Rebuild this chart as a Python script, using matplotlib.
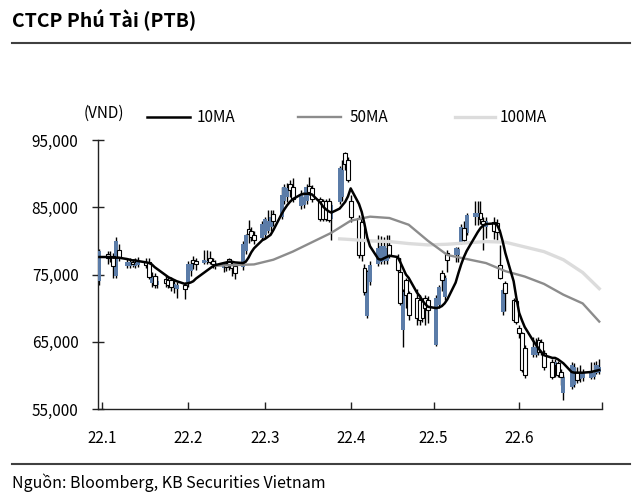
import numpy as np
import pandas as pd
import matplotlib
matplotlib.use('Agg')
import matplotlib.pyplot as plt
import matplotlib.dates as mdates
from matplotlib.lines import Line2D
from matplotlib.ticker import FixedLocator, FuncFormatter

plt.rcParams['font.family'] = ['Noto Sans CJK KR', 'DejaVu Sans']

# trading days shown on the chart (weekdays, 31/12/2021 - 30/06/2022)
dates = pd.bdate_range('2021-12-31', '2022-06-30')

# OHLC in thousand VND, one row per week
open_k = [74.0, 78.0, 77.5, 77.8, 74.8, 78.6,
          76.3, 76.2, 76.9, 76.3, 76.4,
          76.8, 76.9, 73.8, 74.8, 73.5,
          74.3, 74.2, 74.2, 73.0, 72.8,
          73.5, 73.6, 75.5, 77.2, 77.0,
          76.7, 76.8, 77.5, 77.0, 76.2,
          76.0, 76.6, 77.3, 76.6, 76.3,
          76.1, 78.5, 81.8, 81.5, 80.9,
          80.4, 80.8, 81.5, 82.0, 84.0,
          83.5, 86.0, 86.5, 88.5, 88.0,
          85.2, 85.3, 86.0, 88.1, 87.8,
          86.3, 86.0, 85.9, 86.0, 83.2,
          85.8, 86.5, 93.0, 92.0, 86.0,
          83.4, 82.8, 76.0, 68.8, 73.9,
          76.5, 76.8, 77.0, 77.0, 79.4,
          77.5, 75.4, 66.7, 74.2, 72.3,
          71.5, 71.2, 71.0, 71.5, 71.2,
          64.5, 70.5, 75.2, 71.7, 78.2,
          77.9, 77.9, 79.7, 81.9, 81.2,
          83.5, 83.5, 84.1, 83.0, 82.0,
          82.8, 82.6, 76.4, 69.4, 73.7,
          71.2, 71.0, 67.0, 66.3, 64.0,
          63.0, 63.0, 65.3, 65.0, 63.3,
          62.0, 61.5, 61.8, 60.5, 57.4,
          58.3, 58.5, 60.5, 59.5, 59.6,
          59.6, 59.8, 60.4, 60.5]
high_k = [78.8, 78.5, 78.5, 78.2, 80.6, 79.5,
          77.5, 77.4, 77.3, 77.5, 77.6,
          77.5, 77.5, 75.3, 75.2, 74.8,
          74.9, 74.7, 74.6, 74.3, 73.9,
          73.9, 77.0, 77.2, 77.8, 77.5,
          78.6, 78.6, 78.5, 77.4, 77.2,
          76.9, 76.9, 77.5, 76.8, 76.5,
          80.0, 81.0, 83.1, 82.0, 81.4,
          83.0, 83.6, 84.6, 84.6, 84.6,
          88.0, 88.5, 88.6, 89.0, 89.3,
          87.5, 87.2, 88.5, 89.5, 88.3,
          86.5, 86.3, 86.2, 86.4, 85.8,
          91.2, 92.0, 93.2, 92.5, 86.8,
          83.8, 83.0, 76.5, 75.6, 77.0,
          80.9, 80.7, 80.6, 80.9, 80.9,
          78.0, 77.5, 72.8, 74.5, 72.5,
          72.8, 72.0, 71.5, 72.0, 71.8,
          72.0, 73.5, 75.6, 75.0, 78.6,
          79.1, 79.1, 82.5, 83.0, 84.2,
          86.0, 86.0, 86.0, 83.5, 83.5,
          83.5, 83.2, 79.4, 73.0, 74.0,
          71.5, 71.3, 67.5, 66.5, 64.5,
          65.7, 65.5, 65.7, 65.4, 63.8,
          62.5, 62.5, 62.2, 61.0, 60.0,
          62.0, 61.8, 61.2, 61.5, 61.0,
          62.0, 62.0, 62.2, 62.5]
low_k = [73.5, 76.5, 76.8, 74.5, 74.5, 77.0,
         76.0, 76.0, 76.1, 76.0, 76.1,
         76.0, 74.3, 73.2, 73.0, 73.0,
         73.1, 73.0, 72.6, 72.3, 71.5,
         71.3, 73.2, 74.8, 75.8, 75.6,
         76.5, 76.6, 76.5, 76.0, 75.8,
         75.3, 75.5, 75.6, 74.8, 74.4,
         75.6, 78.0, 79.7, 80.0, 79.6,
         80.2, 80.5, 81.2, 81.4, 82.2,
         83.2, 85.5, 85.8, 86.5, 85.8,
         84.8, 84.9, 85.5, 86.8, 85.8,
         83.0, 83.0, 82.9, 82.8, 80.1,
         85.5, 86.0, 90.5, 88.7, 82.8,
         77.5, 77.0, 72.0, 68.5, 73.5,
         76.2, 76.5, 76.5, 76.6, 77.5,
         75.3, 70.5, 64.2, 70.0, 68.3,
         67.5, 67.5, 68.0, 67.5, 67.8,
         64.3, 70.0, 72.5, 71.2, 75.4,
         76.9, 76.9, 79.5, 79.7, 80.8,
         82.4, 82.4, 82.5, 78.6, 80.5,
         80.3, 80.1, 74.3, 69.0, 69.5,
         67.9, 67.6, 65.5, 60.5, 59.6,
         62.8, 62.8, 63.0, 63.0, 60.8,
         59.5, 59.8, 59.7, 58.5, 56.3,
         58.0, 58.2, 58.8, 59.0, 59.2,
         59.4, 59.5, 60.2, 60.2]
close_k = [78.5, 77.5, 77.8, 76.2, 80.0, 77.6,
           76.8, 76.8, 76.5, 76.7, 76.8,
           76.4, 74.6, 74.6, 73.4, 74.0,
           73.8, 73.5, 73.1, 73.6, 73.4,
           72.9, 76.6, 76.5, 76.7, 76.5,
           77.2, 77.0, 76.9, 76.6, 76.7,
           76.5, 76.1, 76.5, 75.9, 75.2,
           79.5, 80.9, 81.0, 80.6, 80.2,
           82.5, 83.3, 83.0, 83.6, 83.0,
           86.8, 88.0, 87.8, 87.5, 86.2,
           86.8, 86.5, 88.0, 87.3, 86.3,
           83.3, 83.2, 83.2, 83.1, 85.3,
           90.8, 90.5, 91.5, 89.0, 83.5,
           77.9, 77.9, 72.4, 75.4, 76.4,
           79.0, 79.2, 79.3, 79.0, 77.9,
           75.7, 70.8, 72.4, 72.0, 69.0,
           68.5, 68.3, 68.5, 70.0, 69.7,
           71.5, 73.1, 74.2, 74.5, 77.2,
           78.9, 78.8, 82.1, 80.1, 83.9,
           84.1, 84.1, 83.3, 82.5, 83.0,
           81.5, 81.3, 74.5, 72.7, 72.2,
           68.2, 68.0, 66.3, 60.8, 60.0,
           64.2, 64.2, 63.5, 63.5, 61.2,
           59.8, 62.0, 60.0, 59.8, 59.8,
           61.5, 61.2, 59.3, 60.3, 60.4,
           60.5, 60.4, 61.5, 61.2]

# moving averages
ma10_k = [77.6, 77.6, 77.6, 77.5, 77.5, 77.5,
          77.3, 77.2, 77.1, 77.1, 77.0,
          76.8, 76.7, 76.5, 76.1, 75.8,
          74.9, 74.6, 74.4, 74.2, 74.0,
          73.6, 73.7, 73.8, 74.0, 74.4,
          75.3, 75.6, 75.9, 76.2, 76.4,
          76.7, 76.8, 76.9, 76.9, 76.8,
          76.7, 76.9, 77.5, 78.3, 78.9,
          80.1, 80.3, 80.6, 80.9, 81.6,
          84.0, 84.7, 85.3, 85.8, 86.2,
          86.9, 87.0, 87.0, 87.0, 86.9,
          85.7, 85.1, 84.7, 84.4, 84.2,
          84.8, 85.3, 85.8, 86.6, 87.8,
          85.5, 84.3, 82.5, 80.5, 79.2,
          77.3, 77.2, 77.4, 77.6, 77.8,
          77.6, 76.8, 75.9, 75.0, 74.5,
          72.3, 71.8, 71.1, 70.6, 70.2,
          70.0, 70.1, 70.3, 70.7, 71.3,
          73.8, 75.2, 76.5, 77.6, 78.5,
          80.6, 81.3, 81.9, 82.3, 82.5,
          82.6, 82.4, 81.5, 80.0, 78.2,
          74.0, 71.5, 69.3, 68.2, 67.2,
          65.2, 64.6, 64.0, 63.5, 63.0,
          62.6, 62.6, 62.4, 62.1, 61.8,
          60.5, 60.4, 60.4, 60.4, 60.4,
          60.5, 60.6, 60.7, 60.8]

ma50_dates = ['2022-02-11', '2022-02-18', '2022-02-25', '2022-03-04', '2022-03-11',
              '2022-03-18', '2022-03-25', '2022-04-01', '2022-04-08', '2022-04-15',
              '2022-04-22', '2022-04-29', '2022-05-06', '2022-05-13', '2022-05-20',
              '2022-05-27', '2022-06-03', '2022-06-10', '2022-06-17', '2022-06-24',
              '2022-06-30']
ma50_k = [76.3, 76.4, 76.5, 77.2, 78.4, 79.8, 81.2, 83.0, 83.6, 83.4, 82.4,
          80.0, 77.9, 77.3, 76.7, 75.5, 74.7, 73.6, 72.0, 70.7, 68.0]

ma100_dates = ['2022-03-28', '2022-04-01', '2022-04-08', '2022-04-15', '2022-04-22',
               '2022-04-29', '2022-05-06', '2022-05-13', '2022-05-20', '2022-05-27',
               '2022-06-03', '2022-06-10', '2022-06-17', '2022-06-24', '2022-06-30']
ma100_k = [80.3, 80.2, 80.0, 79.9, 79.6, 79.4, 79.5, 79.7, 79.9, 79.8,
           79.1, 78.4, 77.2, 75.3, 72.9]

month_ticks = ['2022-01-01', '2022-02-01', '2022-03-01', '2022-04-01',
               '2022-05-01', '2022-06-01', '2022-07-01']
month_labels = ['22.1', '22.2', '22.3', '22.4', '22.5', '22.6', '']
y_ticks = [55000, 65000, 75000, 85000, 95000]

BLUE = '#5b7ca8'
MA50_C = '#8c8c8c'
MA100_C = '#dcdcdc'

o = np.array(open_k) * 1000
h = np.array(high_k) * 1000
l = np.array(low_k) * 1000
c = np.array(close_k) * 1000
x = mdates.date2num(dates)

fig = plt.figure(figsize=(6.4, 5), dpi=100)
W, H = 640, 500
ax = fig.add_axes([98 / W, 1 - 409 / H, (602 - 98) / W, (409 - 140) / H])

# candles: black high-low lines, blue bodies for up days, white for down days
ax.vlines(x, l, h, color='black', lw=1.0, zorder=2)
up = c >= o
ax.bar(x[up], (c - o)[up], bottom=o[up], width=1.5, color=BLUE, lw=0, zorder=3)
ax.bar(x[~up], (o - c)[~up], bottom=c[~up], width=1.4, facecolor='white',
       edgecolor='black', lw=0.8, zorder=3)

ax.plot(mdates.date2num(pd.to_datetime(ma100_dates)), np.array(ma100_k) * 1000,
        color=MA100_C, lw=2.4, zorder=4)
ax.plot(mdates.date2num(pd.to_datetime(ma50_dates)), np.array(ma50_k) * 1000,
        color=MA50_C, lw=1.7, zorder=5)
ax.plot(x, np.array(ma10_k) * 1000, color='black', lw=1.8, zorder=6)

ax.set_xlim(mdates.date2num(pd.Timestamp('2021-12-30 12:00')),
            mdates.date2num(pd.Timestamp('2022-07-01')))
ax.set_ylim(55000, 95000)
ax.xaxis.set_major_locator(FixedLocator(mdates.date2num(pd.to_datetime(month_ticks))))
ax.set_xticklabels(month_labels)
ax.set_yticks(y_ticks)
ax.yaxis.set_major_formatter(FuncFormatter(lambda v, p: f'{v:,.0f}'))

for s in ['top', 'right']:
    ax.spines[s].set_visible(False)
for s in ['left', 'bottom']:
    ax.spines[s].set_color('#222222')
    ax.spines[s].set_linewidth(1.0)
ax.tick_params(axis='y', direction='inout', length=8, width=1, labelsize=11,
               pad=10, colors='#222222', labelcolor='black')
ax.tick_params(axis='x', direction='in', length=5, width=1, labelsize=11,
               pad=15, colors='#222222', labelcolor='black')

# title, rules, source
fig.text(12 / W, 1 - 20 / H, 'CTCP Phú Tài (PTB)', fontsize=14, fontweight='bold',
         va='center', ha='left')
fig.add_artist(Line2D([12 / W, 630 / W], [1 - 43 / H, 1 - 43 / H], color='#404040', lw=1.5))
fig.add_artist(Line2D([12 / W, 630 / W], [1 - 464 / H, 1 - 464 / H], color='#404040', lw=1.5))
fig.text(12 / W, 1 - 483 / H, 'Nguồn: Bloomberg, KB Securities Vietnam', fontsize=11.5,
         va='center', ha='left')

# unit label and legend
fig.text(84 / W, 1 - 113 / H, '(VND)', fontsize=11, va='center', ha='left')
legend_items = [('10MA', 'black', 1.8, 147, 190, 197),
                ('50MA', MA50_C, 1.7, 298, 341, 350),
                ('100MA', MA100_C, 2.4, 455, 495, 500)]
for name, col, lw, x0, x1, tx in legend_items:
    fig.add_artist(Line2D([x0 / W, x1 / W], [1 - 117 / H, 1 - 117 / H], color=col, lw=lw))
    fig.text(tx / W, 1 - 117 / H, name, fontsize=11, va='center', ha='left')

fig.savefig('out.png', dpi=100)
